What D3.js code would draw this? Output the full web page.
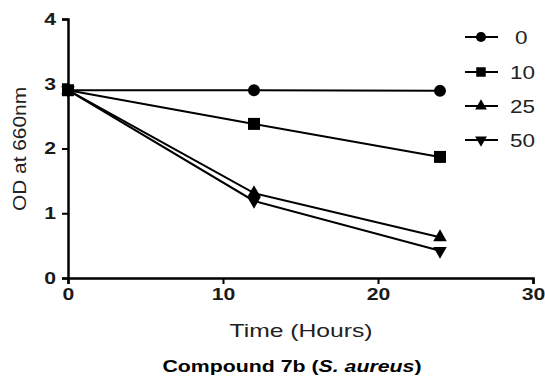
<!DOCTYPE html>
<html><head><meta charset="utf-8">
<script src="https://cdn.jsdelivr.net/npm/d3@7"></script>
<style>body{margin:0;background:#fff}svg{display:block}text{font-family:"Liberation Sans",Arial,sans-serif}</style>
</head><body>
<svg id="c" width="545" height="382"></svg>
<script>
const times = [0, 12, 24];
const seriesNames = ["0", "10", "25", "50"];
const s0 = [2.9, 2.9, 2.89];
const s10 = [2.9, 2.38, 1.87];
const s25 = [2.9, 1.31, 0.63];
const s50 = [2.9, 1.19, 0.42];
const xTicks = [0, 10, 20, 30];
const yTicks = [0, 1, 2, 3, 4];
const allSeries = [s0, s10, s25, s50];
const symbols = [d3.symbolCircle, d3.symbolSquare, d3.symbolTriangle, "down"];

const svg = d3.select("#c");
const x = d3.scaleLinear().domain([0, 30]).range([68, 533]);
const y = d3.scaleLinear().domain([0, 4]).range([278, 19]);

const FF = "'Liberation Sans',Arial,sans-serif";
const xa = svg.append("g").attr("transform", "translate(0,278)")
  .call(d3.axisBottom(x).tickValues(xTicks).tickFormat(d3.format("d")).tickSize(6).tickPadding(4));
const ya = svg.append("g").attr("transform", "translate(68,0)")
  .call(d3.axisLeft(y).tickValues(yTicks).tickFormat(d3.format("d")).tickSize(6).tickPadding(6));
[xa, ya].forEach(a => {
  a.select(".domain").attr("stroke", "#000").attr("stroke-width", 2.5);
  a.selectAll(".tick line").attr("stroke", "#000").attr("stroke-width", 2);
  a.selectAll(".tick text").attr("fill", "#1a1a1a").attr("font-size", 17).attr("font-weight", "bold")
    .attr("font-family", FF)
    .attr("textLength", function() { return this.textContent.length * 11.8; })
    .attr("lengthAdjust", "spacingAndGlyphs");
});
xa.selectAll(".tick text").attr("dy", "0.72em");

function sym(i, size) {
  return d3.symbol().type(symbols[i] === "down" ? d3.symbolTriangle : symbols[i]).size(size)();
}
const sizes = [113, 144, 80, 80];
const legSizes = [80, 90, 60, 60];

const line = d3.line().x((d, i) => x(times[i])).y(d => y(d));
allSeries.forEach((s, i) => {
  svg.append("path").attr("d", line(s)).attr("fill", "none").attr("stroke", "#000").attr("stroke-width", 2);
  svg.selectAll(null).data(s).enter().append("path")
    .attr("d", sym(i, sizes[i]))
    .attr("transform", (d, j) => `translate(${x(times[j])},${y(d)})` + (symbols[i] === "down" ? " rotate(180)" : ""))
    .attr("fill", "#000");
});

// legend
const legY = [37, 72, 106, 140];
seriesNames.forEach((n, i) => {
  const g = svg.append("g").attr("transform", `translate(481,${legY[i]})`);
  g.append("line").attr("x1", -16).attr("x2", 17).attr("stroke", "#000").attr("stroke-width", 2);
  g.append("path").attr("d", sym(i, legSizes[i])).attr("fill", "#000")
    .attr("transform", symbols[i] === "down" ? "rotate(180)" : null);
  g.append("text").attr("x", n.length === 1 ? 34 : 29).attr("y", 6.5).attr("font-size", 18).attr("fill", "#222")
    .attr("textLength", n.length * 12.5).attr("lengthAdjust", "spacingAndGlyphs").text(n);
});

svg.append("text").attr("transform", "translate(26,149) rotate(-90)").attr("text-anchor", "middle")
  .attr("font-size", 18).attr("fill", "#222")
  .attr("textLength", 124).attr("lengthAdjust", "spacingAndGlyphs").text("OD at 660nm");
svg.append("text").attr("x", 301).attr("y", 337).attr("text-anchor", "middle")
  .attr("font-size", 19).attr("fill", "#222")
  .attr("textLength", 143).attr("lengthAdjust", "spacingAndGlyphs").text("Time (Hours)");
const t = svg.append("text").attr("x", 292).attr("y", 372).attr("text-anchor", "middle")
  .attr("font-size", 16.5).attr("font-weight", "bold").attr("fill", "#000")
  .attr("textLength", 259).attr("lengthAdjust", "spacingAndGlyphs");
t.append("tspan").text("Compound 7b (");
t.append("tspan").attr("font-style", "italic").text("S. aureus");
t.append("tspan").text(")");
</script>
</body></html>
